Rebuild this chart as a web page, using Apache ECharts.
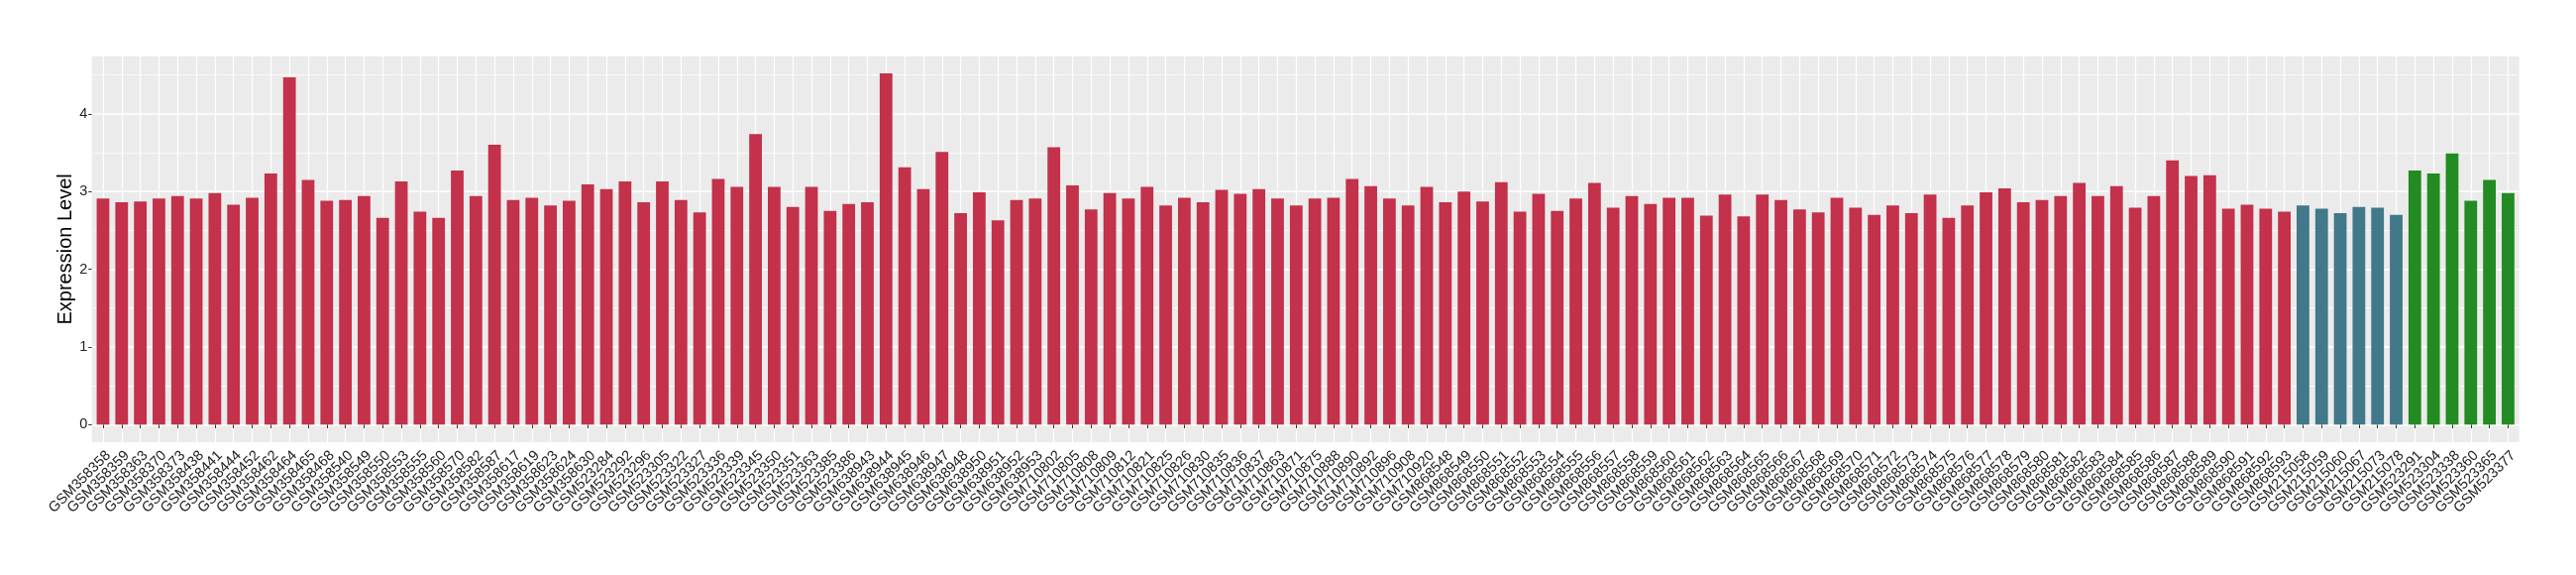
<!DOCTYPE html>
<html>
<head>
<meta charset="utf-8">
<script src="https://cdn.jsdelivr.net/npm/echarts@6/dist/echarts.min.js"></script>
<style>
html,body{margin:0;padding:0;background:#fff;}
#chart{width:2600px;height:580px;}
</style>
</head>
<body>
<div id="chart"></div>
<script>
const categories = [
 'GSM358358','GSM358359','GSM358363','GSM358370','GSM358373','GSM358438','GSM358441','GSM358444','GSM358452','GSM358462',
 'GSM358464','GSM358465','GSM358468','GSM358540','GSM358549','GSM358550','GSM358553','GSM358555','GSM358560','GSM358570',
 'GSM358582','GSM358587','GSM358617','GSM358619','GSM358623','GSM358624','GSM358630','GSM523284','GSM523292','GSM523296',
 'GSM523305','GSM523322','GSM523327','GSM523336','GSM523339','GSM523345','GSM523350','GSM523351','GSM523363','GSM523385',
 'GSM523386','GSM638943','GSM638944','GSM638945','GSM638946','GSM638947','GSM638948','GSM638950','GSM638951','GSM638952',
 'GSM638953','GSM710802','GSM710805','GSM710808','GSM710809','GSM710812','GSM710821','GSM710825','GSM710826','GSM710830',
 'GSM710835','GSM710836','GSM710837','GSM710863','GSM710871','GSM710875','GSM710888','GSM710890','GSM710892','GSM710896',
 'GSM710908','GSM710920','GSM868548','GSM868549','GSM868550','GSM868551','GSM868552','GSM868553','GSM868554','GSM868555',
 'GSM868556','GSM868557','GSM868558','GSM868559','GSM868560','GSM868561','GSM868562','GSM868563','GSM868564','GSM868565',
 'GSM868566','GSM868567','GSM868568','GSM868569','GSM868570','GSM868571','GSM868572','GSM868573','GSM868574','GSM868575',
 'GSM868576','GSM868577','GSM868578','GSM868579','GSM868580','GSM868581','GSM868582','GSM868583','GSM868584','GSM868585',
 'GSM868586','GSM868587','GSM868588','GSM868589','GSM868590','GSM868591','GSM868592','GSM868593','GSM215058','GSM215059',
 'GSM215060','GSM215067','GSM215073','GSM215078','GSM523291','GSM523304','GSM523338','GSM523360','GSM523365','GSM523377'
];
const values = [
 2.91,2.86,2.87,2.91,2.94,2.91,2.98,2.83,2.92,3.23,
 4.47,3.15,2.88,2.89,2.94,2.66,3.13,2.74,2.66,3.27,
 2.94,3.60,2.89,2.92,2.82,2.88,3.09,3.03,3.13,2.86,
 3.13,2.89,2.73,3.16,3.06,3.74,3.06,2.80,3.06,2.75,
 2.84,2.86,4.52,3.31,3.03,3.51,2.72,2.99,2.63,2.89,
 2.91,3.57,3.08,2.77,2.98,2.91,3.06,2.82,2.92,2.86,
 3.02,2.97,3.03,2.91,2.82,2.91,2.92,3.16,3.07,2.91,
 2.82,3.06,2.86,3.00,2.87,3.12,2.74,2.97,2.75,2.91,
 3.11,2.79,2.94,2.84,2.92,2.92,2.69,2.96,2.68,2.96,
 2.89,2.77,2.73,2.92,2.79,2.70,2.82,2.72,2.96,2.66,
 2.82,2.99,3.04,2.86,2.89,2.94,3.11,2.94,3.07,2.79,
 2.94,3.40,3.20,3.21,2.78,2.83,2.78,2.74,2.82,2.78,
 2.72,2.80,2.79,2.70,3.27,3.23,3.49,2.88,3.15,2.98
];
const groups = [
 0,0,0,0,0,0,0,0,0,0, 0,0,0,0,0,0,0,0,0,0, 0,0,0,0,0,0,0,0,0,0,
 0,0,0,0,0,0,0,0,0,0, 0,0,0,0,0,0,0,0,0,0, 0,0,0,0,0,0,0,0,0,0,
 0,0,0,0,0,0,0,0,0,0, 0,0,0,0,0,0,0,0,0,0, 0,0,0,0,0,0,0,0,0,0,
 0,0,0,0,0,0,0,0,0,0, 0,0,0,0,0,0,0,0,0,0, 0,0,0,0,0,0,0,0,1,1,
 1,1,1,1,2,2,2,2,2,2
];
const groupColors = ['#C3314A', '#41788A', '#228B22'];
const yTicks = [0, 1, 2, 3, 4];
const yMinorTicks = [0.5, 1.5, 2.5, 3.5, 4.5];
const yMin = -0.2258, yMax = 4.7408;

const FONT = "'Liberation Sans', Arial, Helvetica, sans-serif";
const chart = echarts.init(document.getElementById('chart'), null, {renderer: 'canvas'});
chart.setOption({
  animation: false,
  backgroundColor: '#ffffff',
  textStyle: {fontFamily: FONT},
  grid: [
    {left: 92.7, right: 57.3, top: 56.7, bottom: 134, show: true, backgroundColor: '#EBEBEB', borderWidth: 0},
    {left: 94.57, right: 59.17, top: 56.7, bottom: 134}
  ],
  xAxis: [
    {gridIndex: 0, type: 'value', min: 0, max: 1, show: false},
    {
      gridIndex: 1, type: 'category', data: categories,
      axisLine: {show: false},
      axisTick: {show: true, alignWithLabel: true, length: 3.7, lineStyle: {color: '#333333', width: 1}},
      splitLine: {show: true, alignWithLabel: true, lineStyle: {color: '#ffffff', width: 1.2}},
      axisLabel: {
        interval: 0, rotate: 45, align: 'right', verticalAlign: 'top', margin: 6,
        fontSize: 14.5, color: '#222222', fontFamily: FONT
      }
    }
  ],
  yAxis: [
    {
      gridIndex: 0, type: 'value', min: yMin, max: yMax,
      name: 'Expression Level', nameLocation: 'middle', nameGap: 16, nameMoveOverlap: false,
      nameTextStyle: {fontSize: 20, color: '#000000', fontFamily: FONT},
      axisLine: {show: false},
      axisTick: {show: true, length: 3.5, customValues: yTicks, lineStyle: {color: '#333333', width: 1}},
      axisLabel: {customValues: yTicks, margin: 4.5, fontSize: 14.5, color: '#222222', fontFamily: FONT},
      splitLine: {show: true, lineStyle: {color: '#ffffff', width: 1.5}}
    },
    {gridIndex: 1, type: 'value', min: yMin, max: yMax, show: false}
  ],
  series: [{
    type: 'bar',
    xAxisIndex: 1, yAxisIndex: 1,
    barWidth: '68%',
    data: values.map((v, i) => ({value: v, itemStyle: {color: groupColors[groups[i]]}})),
    markLine: {
      silent: true, z: 1, symbol: 'none', label: {show: false},
      lineStyle: {color: '#ffffff', width: 0.8, type: 'solid'},
      data: yMinorTicks.map(v => ({yAxis: v}))
    }
  }]
});
</script>
</body>
</html>
